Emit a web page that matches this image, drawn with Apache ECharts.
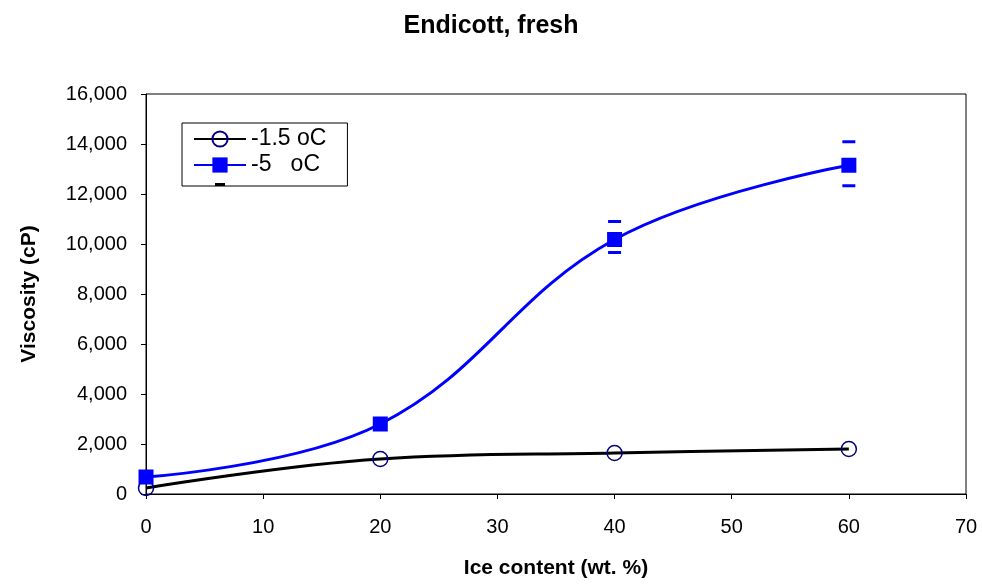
<!DOCTYPE html>
<html>
<head>
<meta charset="utf-8">
<script src="https://cdn.jsdelivr.net/npm/echarts@6/dist/echarts.min.js"></script>
<style>
  html, body { margin: 0; padding: 0; background: #fff; }
  #chart { width: 982px; height: 584px; }
</style>
</head>
<body>
<div id="chart"></div>
<script>
// Ice content (wt. %) at which viscosity was measured
const iceContent = [0, 20, 40, 60];
// Viscosity (cP) at -1.5 oC
const viscosityMinus1_5 = [240, 1400, 1640, 1800];
// Viscosity (cP) at -5 oC
const viscosityMinus5 = [680, 2800, 10180, 13150];
// Error range for -5 oC: [ice content, low, high]
const errorMinus5 = [
  [40, 9660, 10900],
  [60, 12330, 14090]
];
const seriesNames = ['-1.5 oC', '-5   oC', ' '];

const chart = echarts.init(document.getElementById('chart'));
const font = 'Arial, "Liberation Sans", sans-serif';

chart.setOption({
  animation: false,
  backgroundColor: '#fff',
  title: {
    text: 'Endicott, fresh',
    left: 'center',
    top: 9,
    textStyle: { fontFamily: font, fontSize: 25, fontWeight: 'bold', color: '#000' }
  },
  grid: { left: 146, right: 16, top: 94, bottom: 89, show: true, borderColor: '#000', borderWidth: 1 },
  legend: {
    orient: 'vertical',
    left: 182,
    top: 123,
    // the last row (error bar key) is cut by the frame's bottom edge
    padding: [4.5, 21, -12.5, 11],
    itemGap: 3,
    itemWidth: 52,
    itemHeight: 19,
    borderColor: '#000',
    borderWidth: 1,
    backgroundColor: 'rgba(255,255,255,0)',
    textStyle: { fontFamily: font, fontSize: 23, color: '#000' },
    data: [
      { name: seriesNames[0] },
      { name: seriesNames[1] },
      {
        name: seriesNames[2],
        icon: 'path://M0,0M52,19M21,3.5h10v3h-10z',
        itemStyle: { color: '#000' },
        textStyle: { fontSize: 1 }
      }
    ]
  },
  xAxis: {
    type: 'value',
    min: 0, max: 70, interval: 10,
    name: 'Ice content (wt. %)',
    nameLocation: 'middle',
    nameGap: 64,
    nameTextStyle: { fontFamily: font, fontSize: 21, fontWeight: 'bold', color: '#000' },
    axisLine: { lineStyle: { color: '#000' } },
    axisTick: { inside: false, length: 5, lineStyle: { color: '#000' } },
    axisLabel: { fontFamily: font, fontSize: 20, color: '#000', margin: 23 },
    splitLine: { show: false }
  },
  yAxis: {
    type: 'value',
    min: 0, max: 16000, interval: 2000,
    name: 'Viscosity (cP)',
    nameLocation: 'middle',
    nameGap: 106,
    nameTextStyle: { fontFamily: font, fontSize: 21, fontWeight: 'bold', color: '#000' },
    axisLine: { show: true, lineStyle: { color: '#000' } },
    axisTick: { show: true, inside: false, length: 5, lineStyle: { color: '#000' } },
    axisLabel: {
      fontFamily: font, fontSize: 20, color: '#000', margin: 19,
      formatter: v => v.toLocaleString('en-US')
    },
    splitLine: { show: false }
  },
  series: [
    {
      name: seriesNames[0],
      type: 'line',
      smooth: 0.4,
      data: iceContent.map((x, i) => [x, viscosityMinus1_5[i]]),
      lineStyle: { color: '#000', width: 3 },
      symbol: 'circle',
      symbolSize: 15,
      itemStyle: { color: 'rgba(255,255,255,0)', borderColor: '#000080', borderWidth: 1.5 },
      z: 3
    },
    {
      name: seriesNames[1],
      type: 'line',
      smooth: 0.4,
      data: iceContent.map((x, i) => [x, viscosityMinus5[i]]),
      lineStyle: { color: '#0000ff', width: 3 },
      symbol: 'rect',
      symbolSize: 15,
      itemStyle: { color: '#0000ff' },
      z: 4
    },
    {
      name: seriesNames[2],
      type: 'custom',
      data: errorMinus5,
      encode: { x: 0, y: [1, 2] },
      itemStyle: { color: '#000' },
      renderItem: function (params, api) {
        const x = api.value(0);
        const lo = api.coord([x, api.value(1)]);
        const hi = api.coord([x, api.value(2)]);
        const half = 6.5;
        const style = { stroke: '#0000ff', lineWidth: 3 };
        return {
          type: 'group',
          children: [
            { type: 'line', shape: { x1: lo[0] - half, y1: lo[1], x2: lo[0] + half, y2: lo[1] }, style },
            { type: 'line', shape: { x1: hi[0] - half, y1: hi[1], x2: hi[0] + half, y2: hi[1] }, style }
          ]
        };
      },
      z: 5
    }
  ]
});
</script>
</body>
</html>
